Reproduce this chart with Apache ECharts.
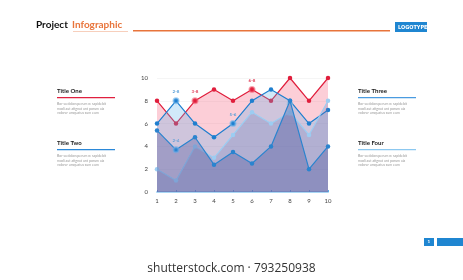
<!DOCTYPE html>
<html lang="en">
<head>
    <meta charset="UTF-8">
    <title>Project Infographic</title>
    <script src="https://cdn.jsdelivr.net/npm/echarts@6/dist/echarts.min.js"></script>
    <style>
        html, body { margin: 0; padding: 0; background: #fff; }
        #main { width: 463px; height: 280px; }
    </style>
</head>
<body>
    <div id="main"></div>
    <script>
        // 数据
        var categories = ['1', '2', '3', '4', '5', '6', '7', '8', '9', '10'];
        var redValues = [8, 6, 8, 9, 8, 9, 8, 10, 8, 10];
        var blueValues = [6, 8, 6, 4.8, 6, 8, 9, 8, 6, 7.2];
        var paleValues = [2, 1, 4, 3, 5, 7, 6, 7, 5, 8];
        var darkValues = [5.4, 3.7, 4.8, 2.4, 3.5, 2.5, 4, 8, 2, 4];
        // 点上的小标签
        var redLabels = ['', '', '3-8', '', '', '6-8', '', '', '', ''];
        var blueLabels = ['', '2-8', '', '', '5-6', '', '', '', '', ''];
        var paleLabels = ['', '', '', '', '', '', '', '8-8', '', ''];
        var darkLabels = ['', '2-4', '', '', '', '', '', '', '', ''];
        var yTicks = [0, 2, 4, 6, 8, 10];

        var lorem = 'Bor sa doloreperum re sapidebit\nmodi aut atignat unt porum aia\nvolorer umquatus sum eum';

        var myChart = echarts.init(document.getElementById('main'));

        // 把数值和标签合成 data
        function makeData(values, labels, halo) {
            var arr = [];
            for (var i = 0; i < values.length; i++) {
                if (labels[i]) {
                    arr.push({
                        value: values[i],
                        symbolSize: 5,
                        itemStyle: { borderColor: halo, borderWidth: 2 },
                        label: { show: true, formatter: labels[i] }
                    });
                } else {
                    arr.push(values[i]);
                }
            }
            return arr;
        }

        function makeSeries(name, values, labels, color, halo, labelColor, area, z) {
            return {
                name: name,
                type: 'line',
                z: z,
                data: makeData(values, labels, halo),
                symbol: 'circle',
                symbolSize: 4.5,
                lineStyle: { color: color, width: 1.2 },
                itemStyle: { color: color },
                areaStyle: { color: area, opacity: 1 },
                label: {
                    show: false,
                    position: 'top',
                    distance: 3,
                    color: labelColor,
                    fontSize: 4.5,
                    fontWeight: 'bold',
                    fontFamily: 'Lato'
                },
                emphasis: { disabled: true }
            };
        }

        function panel(x, y, title, lineColor) {
            return [
                { type: 'text', left: x, top: y, style: { text: title, fill: '#222', font: 'bold 6px Lato' } },
                { type: 'rect', left: x, top: y + 9, shape: { width: 58, height: 1.3 }, style: { fill: lineColor } },
                { type: 'text', left: x, top: y + 14, style: { text: lorem, fill: '#999', font: '3.5px Lato', lineHeight: 4.5 } }
            ];
        }

        var graphics = [
            { type: 'text', left: 36, top: 20, style: { text: 'Project', fill: '#111', font: 'bold 10px Lato' } },
            { type: 'text', left: 72, top: 20, style: { text: 'Infographic', fill: '#e8743b', font: 'bold 10px Lato' } },
            { type: 'rect', left: 73, top: 31, shape: { width: 55, height: 0.6 }, style: { fill: '#f0a07a' } },
            { type: 'rect', left: 133, top: 30, shape: { width: 257, height: 1.5 }, style: { fill: '#e8743b' } },
            { type: 'rect', left: 395, top: 22, shape: { width: 32, height: 10 }, style: { fill: '#1f86d1' } },
            { type: 'text', left: 398, top: 24.5, style: { text: 'LOGOTYPE', fill: '#fff', font: 'bold 5.5px "DejaVu Sans Condensed"' } },
            { type: 'rect', left: 424, top: 238, shape: { width: 10, height: 8 }, style: { fill: '#1f86d1' } },
            { type: 'text', left: 427.5, top: 239.5, style: { text: '1', fill: '#fff', font: 'bold 4.5px Lato' } },
            { type: 'rect', left: 437, top: 238, shape: { width: 26, height: 8 }, style: { fill: '#1f86d1' } },
            { type: 'text', left: 'center', top: 263, style: { text: 'shutterstock.com \u00b7 793250938', fill: '#333', font: '12px "Open Sans"' } }
        ];
        graphics = graphics
            .concat(panel(57, 88, 'Title One', '#e0203f'))
            .concat(panel(57, 140, 'Title Two', '#2b88d8'))
            .concat(panel(358, 88, 'Title Three', '#4a9be0'))
            .concat(panel(358, 140, 'Title Four', '#8cc8f0'));

        var option = {
            animation: false,
            grid: { left: 157, right: 135, top: 78, bottom: 88 },
            xAxis: {
                type: 'category',
                data: categories,
                boundaryGap: false,
                axisLine: { lineStyle: { color: '#a8d6f4', width: 2 } },
                axisTick: { show: true, lineStyle: { color: '#5aaee8' }, length: 2, inside: true },
                axisLabel: { color: '#444', fontSize: 6, margin: 6, fontFamily: 'Lato' },
                splitLine: { show: false }
            },
            yAxis: {
                type: 'value',
                min: yTicks[0],
                max: yTicks[yTicks.length - 1],
                interval: 2,
                axisLine: { show: false },
                axisTick: { show: false },
                axisLabel: { color: '#444', fontSize: 6, margin: 9, fontFamily: 'Lato' },
                splitLine: { lineStyle: { color: '#eeeeee', width: 0.6 } }
            },
            series: [
                makeSeries('Title One', redValues, redLabels, '#e01e3c', 'rgba(240,90,110,0.55)', '#e0405a', 'rgba(244,80,110,0.28)', 2),
                makeSeries('Title Three', blueValues, blueLabels, '#1f7fcf', 'rgba(110,180,235,0.6)', '#5a9fd8', 'rgba(90,175,235,0.28)', 3),
                makeSeries('Title Four', paleValues, paleLabels, '#9ccdf2', 'rgba(170,210,240,0.7)', '#8ab8dc', 'rgba(90,110,180,0.25)', 4),
                makeSeries('Title Two', darkValues, darkLabels, '#2a84cf', 'rgba(110,170,230,0.6)', '#6aa2d8', 'rgba(60,70,150,0.3)', 5)
            ],
            graphic: graphics
        };

        myChart.setOption(option);
    </script>
</body>
</html>
